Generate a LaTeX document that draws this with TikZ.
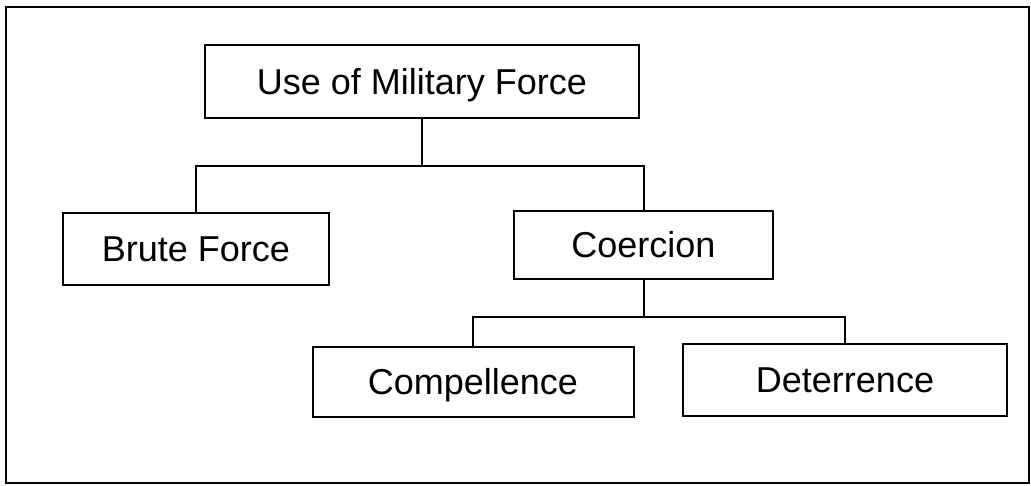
\documentclass[tikz,border=0pt]{standalone}
\usepackage{fontspec}
\setmainfont{Liberation Sans}
\begin{document}
\begin{tikzpicture}[x=1pt,y=-1pt,
  box/.style={draw, line width=2pt, inner sep=0pt, rectangle,
    font=\fontsize{36}{40}\selectfont, text height=25.8pt, text depth=0pt},
  conn/.style={line width=2pt}]
\useasboundingbox (0,0) rectangle (1031,485);
\draw[line width=2.6pt] (6,7) rectangle (1029,483);
\node[box, minimum width=434pt, minimum height=73pt] (top) at (422,81.5) {Use of Military Force};
\node[box, minimum width=266pt, minimum height=72pt] (brute) at (196,249) {Brute Force};
\node[box, minimum width=259pt, minimum height=68pt] (coer) at (643.5,245) {Coercion};
\node[box, minimum width=321pt, minimum height=70pt] (comp) at (473,382) {Compellence};
\node[box, minimum width=324pt, minimum height=72pt] (det) at (845,380) {Deterrence};
\coordinate (j1) at (422,165.5);
\coordinate (j2) at (643.5,316.5);
\draw[conn] (top.south) -- (j1);
\draw[conn] (brute.north) |- (j1) -| (coer.north);
\draw[conn] (coer.south) -- (j2);
\draw[conn] (comp.north) |- (j2) -| (det.north);
\end{tikzpicture}
\end{document}
